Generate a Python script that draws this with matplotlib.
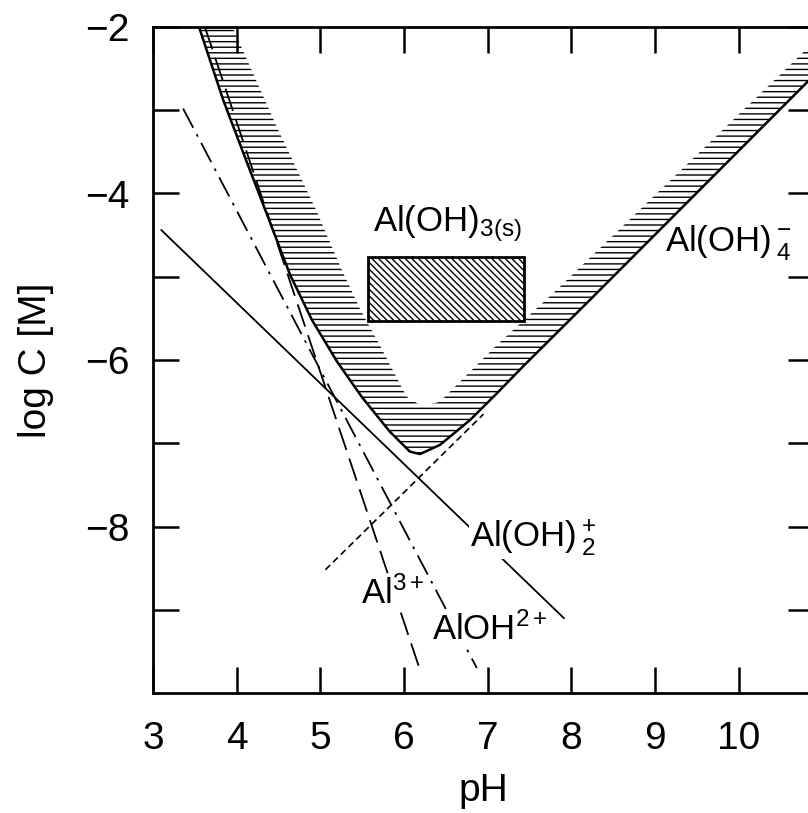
import numpy as np
import matplotlib
matplotlib.use("Agg")
import matplotlib.pyplot as plt

plt.rcParams["font.family"] = ["Liberation Sans", "DejaVu Sans"]
plt.rcParams["mathtext.fontset"] = "custom"
plt.rcParams["mathtext.rm"] = "Liberation Sans"
plt.rcParams["mathtext.it"] = "Liberation Sans"
plt.rcParams["mathtext.default"] = "regular"
plt.rcParams["hatch.color"] = "black"
plt.rcParams["hatch.linewidth"] = 1.0

# solubility band of Al(OH)3(s): lower and upper bounds
lower_ph = [3.55, 3.84, 4.12, 4.40, 4.64, 4.90, 5.20, 5.50, 5.83, 6.07, 6.19,
            6.43, 6.79, 7.11, 7.43, 8.27, 10.9]
lower_logc = [-2.0, -2.88, -3.62, -4.35, -4.98, -5.52, -6.02, -6.45, -6.86,
              -7.10, -7.13, -7.02, -6.72, -6.40, -6.07, -5.23, -2.58]
upper_ph = [3.95, 4.48, 4.95, 5.24, 5.48, 5.72, 6.03, 6.22, 6.43, 7.11, 7.78,
            10.9]
upper_logc = [-2.0, -3.20, -4.20, -4.88, -5.40, -5.84, -6.44, -6.56, -6.50,
              -5.82, -5.20, -2.18]

# species lines (end points)
al3_ph = [3.62, 6.20]
al3_logc = [-2.0, -9.75]
aloh_ph = [3.36, 6.87]
aloh_logc = [-2.98, -9.70]
aloh2_ph = [3.10, 7.91]
aloh2_logc = [-4.44, -9.10]
aloh4_ph = [5.06, 6.95]
aloh4_logc = [-8.52, -6.65]

# solid phase box
box_ph = [5.57, 7.44]
box_logc = [-5.53, -4.76]

fig = plt.figure(figsize=(8.08, 8.13), dpi=100)
ax = fig.add_axes([153 / 808, 120 / 813, 661 / 808, 666 / 813])

poly_x = np.concatenate([lower_ph, upper_ph[::-1]])
poly_y = np.concatenate([lower_logc, upper_logc[::-1]])
ax.fill(poly_x, poly_y, facecolor="none", edgecolor="black", hatch="---",
        linewidth=0)
ax.plot(lower_ph, lower_logc, color="black", lw=1.8)

ax.plot(al3_ph, al3_logc, color="black", lw=1.3, dashes=(13, 5))
ax.plot(aloh_ph, aloh_logc, color="black", lw=1.3, dashes=(12, 4, 1.5, 4))
ax.plot(aloh2_ph, aloh2_logc, color="black", lw=1.3)
ax.plot(aloh4_ph, aloh4_logc, color="black", lw=1.2, dashes=(4, 2.5))

ax.add_patch(plt.Rectangle((box_ph[0], box_logc[0]), box_ph[1] - box_ph[0],
                           box_logc[1] - box_logc[0], facecolor="white",
                           edgecolor="black", lw=2, hatch="\\\\\\\\\\"))

wbox = dict(facecolor="white", edgecolor="none", pad=1)
fs = 25
ax.text(5.63, -4.46, "Al(OH)$_{3(s)}$", fontsize=fs, ha="left", va="baseline")
ax.text(9.12, -4.70, "Al(OH)$\\,{}_4^{-}$", fontsize=fs, ha="left",
        va="baseline")
ax.text(6.79, -8.24, "Al(OH)$\\,{}_2^{+}$", fontsize=fs, ha="left",
        va="baseline", bbox=wbox)
ax.text(5.48, -8.93, "Al$^{3+}$", fontsize=fs, ha="left", va="baseline",
        bbox=wbox)
ax.text(6.33, -9.36, "AlOH$^{2+}$", fontsize=fs, ha="left", va="baseline",
        bbox=wbox)

ax.set_xlim(3, 10.9)
ax.set_ylim(-10, -2)
ax.set_xticks(range(3, 11))
ax.set_yticks([-8, -6, -4, -2])
ax.set_yticks([-9, -7, -5, -3], minor=True)
ax.tick_params(which="both", direction="in", top=True, right=True,
               length=19, width=1.8, labelsize=28)
ax.tick_params(axis="x", pad=20)
ax.tick_params(axis="y", pad=17)
for s in ax.spines.values():
    s.set_linewidth(2)

ax.set_xlabel("pH", fontsize=28, labelpad=12)
ax.set_ylabel("log C [M]", fontsize=28, labelpad=22)

fig.savefig("out.png", dpi=100)
